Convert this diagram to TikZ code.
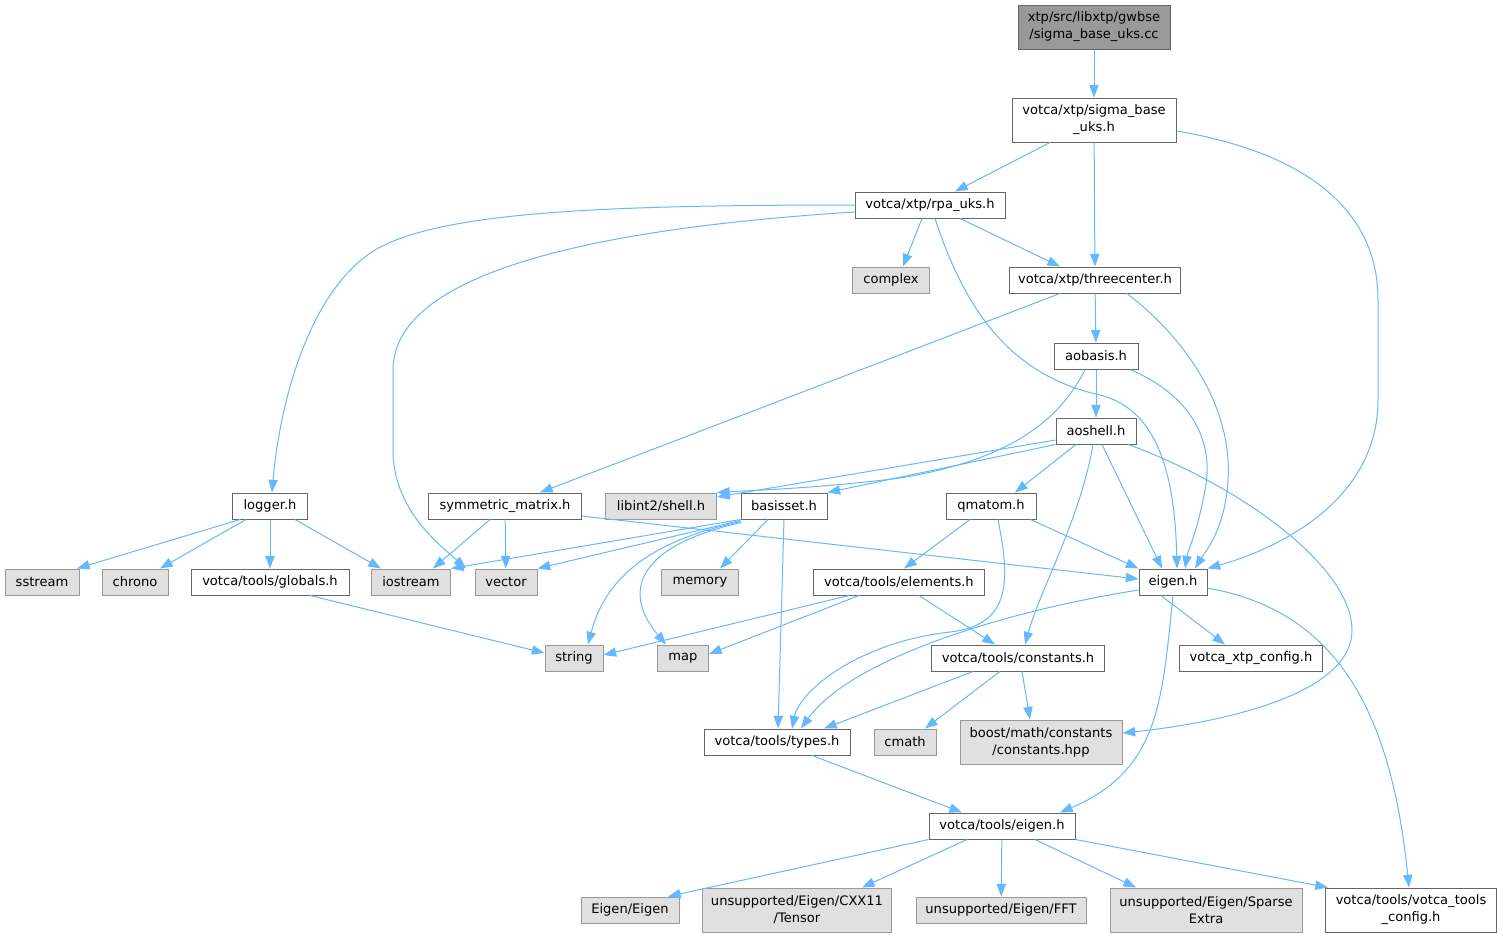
\documentclass[tikz,border=0pt]{standalone}
\usepackage{fontspec}
\setmainfont{DejaVu Sans}
\usetikzlibrary{arrows.meta,calc}
\definecolor{edgeblue}{HTML}{63B8FF}
\definecolor{boxline}{HTML}{666666}
\definecolor{sysline}{HTML}{999999}
\definecolor{sysfill}{HTML}{E0E0E0}
\tikzset{
  file/.style={draw=boxline, fill=white, line width=0.75pt, inner sep=0pt,
    minimum height=19.5pt, align=center, font=\fontsize{9.8}{12.75}\selectfont},
  sysfile/.style={file, draw=sysline, fill=sysfill},
  rootfile/.style={file, fill=sysline},
  two/.style={minimum height=33pt},
  wd/.style={minimum width=#1*0.75pt},
  dep/.style={draw=edgeblue, line width=0.75pt, -{Triangle[length=9.5pt,width=7pt]}},
}
\begin{document}
\begin{tikzpicture}[x=0.75pt,y=-0.75pt]
\useasboundingbox (0,0) rectangle (1503,939);
% headers
\node[rootfile,two,wd=152] (root) at (1094,27) {xtp/src/libxtp/gwbse\\/sigma\_base\_uks.cc};
\node[file,two,wd=164] (sbuks) at (1094,120) {votca/xtp/sigma\_base\\\_uks.h};
\node[file,wd=150] (rpa) at (930,205) {votca/xtp/rpa\_uks.h};
\node[sysfile,wd=77] (complex) at (891,280) {complex};
\node[file,wd=171] (tc) at (1095,280) {votca/xtp/threecenter.h};
\node[file,wd=84] (aobasis) at (1096,356) {aobasis.h};
\node[file,wd=80] (aoshell) at (1096,431) {aoshell.h};
\node[file,wd=75] (logger) at (270,506) {logger.h};
\node[file,wd=153] (sym) at (505,506) {symmetric\_matrix.h};
\node[sysfile,wd=111] (libint) at (661,506) {libint2/shell.h};
\node[file,wd=86] (basis) at (784,506) {basisset.h};
\node[file,wd=90] (qmatom) at (991,506) {qmatom.h};
\node[sysfile,wd=74] (sstream) at (42,582) {sstream};
\node[sysfile,wd=66] (chrono) at (135,582) {chrono};
\node[file,wd=158] (globals) at (270,582) {votca/tools/globals.h};
\node[sysfile,wd=79] (iostream) at (411,582) {iostream};
\node[sysfile,wd=62] (vector) at (506,582) {vector};
\node[sysfile,wd=77] (memory) at (700,582) {memory};
\node[file,wd=171] (elements) at (899,582) {votca/tools/elements.h};
\node[file,wd=68] (eigen) at (1173,582) {eigen.h};
\node[sysfile,wd=58] (string) at (574,658) {string};
\node[sysfile,wd=51] (map) at (683,658) {map};
\node[file,wd=173] (constants) at (1018,658) {votca/tools/constants.h};
\node[file,wd=143] (xtpcfg) at (1251,658) {votca\_xtp\_config.h};
\node[file,wd=146] (types) at (777,742) {votca/tools/types.h};
\node[sysfile,wd=62] (cmath) at (905,742) {cmath};
\node[sysfile,two,wd=162] (boost) at (1041,742) {boost/math/constants\\/constants.hpp};
\node[file,wd=146] (teigen) at (1002,826) {votca/tools/eigen.h};
\node[sysfile,wd=98] (eigeneigen) at (630,910) {Eigen/Eigen};
\node[sysfile,two,wd=189] (tensor) at (797,910) {unsupported/Eigen/CXX11\\/Tensor};
\node[sysfile,wd=170] (fft) at (1001,910) {unsupported/Eigen/FFT};
\node[sysfile,two,wd=192] (sparse) at (1206,910) {unsupported/Eigen/Sparse\\Extra};
\node[file,two,wd=171] (toolscfg) at (1411,910) {votca/tools/votca\_tools\\\_config.h};
% includes
\draw[dep] (root) -- (sbuks);
\draw[dep] ($(sbuks.south)+(-44,0)$) -- ($(rpa.north)+(25,0)$);
\draw[dep] (sbuks) -- (tc);
\draw[dep] ($(sbuks.east)+(0,11)$) .. controls (1290,150) and (1378,200) .. (1378,300) -- (1378,400) .. controls (1378,500) and (1280,548) .. (eigen.north east);
\draw[dep] (rpa.west) .. controls (600,205) and (440,212) .. (375,250) .. controls (310,290) and (280,400) .. ($(logger.north)+(2,0)$);
\draw[dep] ($(rpa.west)+(0,7)$) .. controls (650,225) and (393,260) .. (393,370) -- (393,450) .. controls (393,510) and (440,545) .. ($(vector.north)+(-40,0)$);
\draw[dep] ($(rpa.south)+(-8,0)$) -- ($(complex.north)+(12,0)$);
\draw[dep] ($(rpa.south)+(30,0)$) -- ($(tc.north)+(-35,0)$);
\draw[dep] ($(rpa.south)+(5,0)$) .. controls (965,310) and (1010,375) .. (1100,395) .. controls (1160,410) and (1175,480) .. ($(eigen.north)+(4,0)$);
\draw[dep] ($(tc.south)+(-35,0)$) -- ($(sym.north)+(35,0)$);
\draw[dep] (tc) -- (aobasis);
\draw[dep] ($(tc.south)+(32,0)$) .. controls (1200,350) and (1232,420) .. (1228,480) .. controls (1225,530) and (1205,552) .. ($(eigen.north)+(22,0)$);
\draw[dep] (aobasis) -- (aoshell);
\draw[dep] ($(aobasis.south)+(-11,0)$) .. controls (1060,420) and (1010,460) .. (900,478) .. controls (820,488) and (760,490) .. (libint.north east);
\draw[dep] ($(aobasis.south)+(34,0)$) .. controls (1190,395) and (1215,440) .. (1205,490) .. controls (1198,530) and (1188,550) .. ($(eigen.north)+(12,0)$);
\draw[dep] ($(aoshell.west)+(0,9)$) -- ($(libint.east)+(0,-9)$);
\draw[dep] (aoshell.south west) -- (basis.north east);
\draw[dep] ($(aoshell.south)+(-20,0)$) -- ($(qmatom.north)+(24,0)$);
\draw[dep] ($(aoshell.south)+(6,0)$) -- ($(eigen.north)+(-11,0)$);
\draw[dep] ($(aoshell.south)+(-3,0)$) .. controls (1080,520) and (1040,590) .. ($(constants.north)+(7,0)$);
\draw[dep] ($(aoshell.south east)+(-8,0)$) .. controls (1250,490) and (1352,570) .. (1352,630) .. controls (1352,700) and (1200,725) .. ($(boost.east)+(0,-9)$);
\draw[dep] ($(logger.south)+(-30,0)$) -- ($(sstream.north)+(35,0)$);
\draw[dep] ($(logger.south)+(-24,0)$) -- ($(chrono.north)+(25,0)$);
\draw[dep] (logger) -- (globals);
\draw[dep] ($(logger.south)+(25,0)$) -- ($(iostream.north)+(-30,0)$);
\draw[dep] ($(sym.south)+(-15,0)$) -- ($(iostream.north)+(22,0)$);
\draw[dep] (sym) -- (vector);
\draw[dep] ($(sym.east)+(0,10)$) -- ($(eigen.west)+(0,-3)$);
\draw[dep] (basis.south west) -- (iostream.north east);
\draw[dep] ($(basis.south west)+(0,1)$) -- (vector.north east);
\draw[dep] ($(basis.south)+(-16,0)$) -- ($(memory.north)+(20,0)$);
\draw[dep] ($(basis.south west)+(0,2)$) .. controls (680,535) and (610,560) .. ($(string.north)+(14,0)$);
\draw[dep] ($(basis.south west)+(1,3)$) .. controls (640,545) and (620,590) .. ($(map.north)+(-17,0)$);
\draw[dep] (basis.south) -- ($(types.north)+(1,0)$);
\draw[dep] ($(qmatom.south)+(-21,0)$) -- ($(elements.north)+(5,0)$);
\draw[dep] ($(qmatom.south east)+(-6,0)$) -- (eigen.north west);
\draw[dep] ($(qmatom.south)+(7,0)$) .. controls (1010,580) and (1012,625) .. (950,632) .. controls (860,642) and (800,690) .. ($(types.north)+(15,0)$);
\draw[dep] ($(globals.south)+(40,0)$) -- ($(string.west)+(0,-5)$);
\draw[dep] ($(elements.south)+(-50,0)$) -- ($(string.east)+(0,-3)$);
\draw[dep] ($(elements.south)+(-40,0)$) -- ($(map.east)+(0,-4)$);
\draw[dep] ($(elements.south)+(20,0)$) -- ($(constants.north)+(-23,0)$);
\draw[dep] ($(eigen.south)+(-12,0)$) -- ($(xtpcfg.north)+(-26,0)$);
\draw[dep] ($(eigen.west)+(0,8)$) .. controls (1000,612) and (850,660) .. ($(types.north)+(24,0)$);
\draw[dep] (eigen.south) .. controls (1162,700) and (1160,770) .. ($(teigen.north)+(58,0)$);
\draw[dep] ($(eigen.east)+(0,6)$) .. controls (1330,610) and (1390,700) .. ($(toolscfg.north)+(-2,0)$);
\draw[dep] ($(constants.south)+(-45,0)$) -- ($(types.north)+(47,0)$);
\draw[dep] ($(constants.south)+(-18,0)$) -- ($(cmath.north)+(20,0)$);
\draw[dep] ($(constants.south)+(4,0)$) -- ($(boost.north)+(-11,0)$);
\draw[dep] ($(types.south)+(35,0)$) -- ($(teigen.north)+(-40,0)$);
\draw[dep] (teigen.south west) -- ($(eigeneigen.north)+(38,0)$);
\draw[dep] ($(teigen.south)+(-35,0)$) -- ($(tensor.north)+(65,0)$);
\draw[dep] (teigen) -- (fft);
\draw[dep] ($(teigen.south)+(33,0)$) -- ($(sparse.north)+(-70,0)$);
\draw[dep] (teigen.south east) -- ($(toolscfg.north west)+(3,0)$);
\end{tikzpicture}
\end{document}
